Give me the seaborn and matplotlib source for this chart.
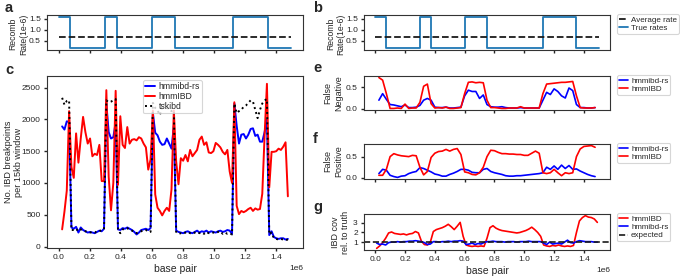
import numpy as np
import pandas as pd
import seaborn as sns
import matplotlib.pyplot as plt

# --- recombination map (bp, rate x1e-6) ---
rate_breaks = [0, 75000, 300000, 375000, 600000, 750000, 1125000, 1350000, 1500000]
rate_values = [1.6, 0.15, 1.6, 0.15, 1.6, 0.15, 1.6, 0.15, 0.15]
avg_rate = 0.67

# --- panel c: breakpoints per 15kb window ---
win_pos = np.arange(98) * 15000 + 22500
bp_rs = [1890, 1840, 1970, 1960,
         300, 280, 310, 220, 300, 260, 240, 220, 230, 220, 210, 230, 250, 240, 280,
         2250, 1800, 1700, 1720, 1950,
         270, 260, 290, 280, 300, 280, 260, 230, 190, 220, 260, 270, 280, 260, 290,
         2100, 1790, 1750, 1650, 1600, 1610, 1700, 1620, 1540, 1900,
         250, 230, 220, 210, 230, 240, 220, 210, 230, 250, 220, 240, 230, 250, 220,
         240, 230, 220, 240, 250, 230, 240, 260, 250, 200,
         2250, 1900, 1620, 1760, 1770, 1700, 1760, 1850, 1860, 1740, 1760, 1650, 1650, 1800, 2000,
         180, 240, 150, 130, 120, 130, 130, 110, 120]
bp_hmmibd = [270, 550, 880, 2130, 1250, 1080, 1780, 1320, 1700, 2040,
             1800, 1620, 1700, 1420, 1460, 1440, 1600, 1030, 1030, 2460,
             1100, 570, 1000, 2450, 970, 2050, 1600, 1550, 1880, 1620,
             1680, 1690, 1670, 1720, 1700, 1620, 1560, 1210, 1370, 2140,
             820, 610, 560, 490, 560, 610, 560, 900, 2140, 1340,
             980, 1390, 1350, 1440, 1340, 1520, 1420, 1470, 1520, 1680,
             1730, 1600, 1640, 1480, 1470, 1500, 1630, 1600, 1560, 1490,
             1450, 1520, 1180, 1000, 2270, 640, 510, 560, 540, 560,
             590, 610, 560, 600, 580, 590, 830, 1750, 2560, 930,
             1490, 1490, 1500, 1540, 1520, 1570, 1640, 790]
bp_tsk = [2340, 2230, 2290, 2300,
          260, 260, 280, 240, 270, 250, 240, 230, 220, 230, 220, 240, 240, 260, 270,
          2300, 2270, 2280, 2300, 2320,
          260, 210, 270, 280, 290, 260, 250, 230, 210, 230, 240, 260, 260, 240, 230,
          2260, 2180, 2140, 2070, 2200, 2240, 2180, 2170, 2130, 2140,
          230, 200, 210, 200, 220, 230, 210, 200, 220, 230, 210, 220, 200, 230, 210,
          220, 220, 210, 230, 240, 200, 220, 200, 210, 190,
          2250, 2100, 2130, 2150, 2200, 2220, 2260, 2300, 2280, 2150, 2020, 2150, 2250, 2300, 2320,
          190, 220, 130, 120, 110, 120, 110, 100, 110]

# --- panels e/f: false negative / false positive ---
err_pos = np.arange(1, 60) * 25000
fn_rs = [0.20, 0.35, 0.22, 0.10, 0.09, 0.07, 0.05, 0.09, 0.03, 0.03,
         0.04, 0.08, 0.20, 0.24, 0.20, 0.04, 0.03, 0.03, 0.04, 0.02,
         0.02, 0.03, 0.04, 0.30, 0.43, 0.40, 0.40, 0.24, 0.32, 0.10,
         0.05, 0.04, 0.04, 0.05, 0.03, 0.02, 0.02, 0.02, 0.03, 0.02,
         0.02, 0.02, 0.02, 0.02, 0.20, 0.38, 0.33, 0.46, 0.40, 0.30,
         0.25, 0.48, 0.42, 0.10, 0.03, 0.03, 0.02, 0.02, 0.03]
fn_hmmibd = [0.72, 0.66, 0.35, 0.01, 0.01, 0.02, 0.01, 0.11, 0.01, 0.02,
             0.02, 0.15, 0.52, 0.57, 0.12, 0.02, 0.03, 0.02, 0.04, 0.01,
             0.01, 0.02, 0.03, 0.35, 0.61, 0.62, 0.60, 0.61, 0.60, 0.20,
             0.03, 0.03, 0.02, 0.01, 0.01, 0.02, 0.02, 0.02, 0.05, 0.02,
             0.02, 0.02, 0.02, 0.02, 0.35, 0.57, 0.58, 0.59, 0.60, 0.61,
             0.61, 0.62, 0.63, 0.30, 0.03, 0.02, 0.02, 0.02, 0.03]
fp_rs = [0.10, 0.20, 0.18, 0.06, 0.03, 0.01, 0.04, 0.05, 0.10, 0.13,
         0.15, 0.24, 0.22, 0.18, 0.14, 0.09, 0.07, 0.04, 0.04, 0.08,
         0.11, 0.15, 0.20, 0.20, 0.18, 0.13, 0.12, 0.12, 0.20, 0.22,
         0.15, 0.12, 0.10, 0.08, 0.05, 0.04, 0.04, 0.05, 0.05, 0.06,
         0.07, 0.08, 0.09, 0.10, 0.12, 0.25, 0.20, 0.28, 0.20, 0.30,
         0.22, 0.29, 0.20, 0.21, 0.16, 0.12, 0.08, 0.05, 0.03]
fp_hmmibd = [0.06, 0.06, 0.20, 0.50, 0.57, 0.54, 0.52, 0.51, 0.50, 0.53,
             0.52, 0.25, 0.07, 0.15, 0.48, 0.58, 0.62, 0.63, 0.67, 0.63,
             0.67, 0.69, 0.55, 0.14, 0.12, 0.08, 0.07, 0.12, 0.25, 0.50,
             0.65, 0.64, 0.60, 0.57, 0.57, 0.56, 0.56, 0.55, 0.55, 0.53,
             0.53, 0.58, 0.63, 0.58, 0.12, 0.10, 0.12, 0.20, 0.12, 0.05,
             0.12, 0.10, 0.12, 0.50, 0.68, 0.74, 0.75, 0.76, 0.72]

# --- panel g: IBD coverage relative to truth ---
cov_pos = np.arange(75) * 20000 + 10000
cov_hmmibd = [0.35, 0.6, 0.95, 1.4, 1.95,
              2.05, 1.9, 1.85, 1.8, 1.85, 1.75, 1.85, 1.9, 2.1, 1.95,
              1.1, 0.75, 0.7, 1.0, 2.1, 2.3, 2.4, 2.5, 2.65, 2.85,
              2.6, 2.3, 2.65, 3.05, 1.6, 0.7, 0.6, 0.55, 0.6, 0.55,
              0.6, 0.55, 1.4, 2.5, 2.7, 2.45, 2.3, 2.2, 2.15, 2.1,
              2.05, 2.0, 1.95, 2.0, 2.1, 2.2, 2.35, 2.55, 2.3, 2.0,
              1.6, 0.7, 0.6, 0.55, 0.65, 0.6, 0.7, 0.6, 0.55, 0.6,
              0.55, 0.65, 2.0, 3.2, 3.55, 3.75, 3.6, 3.55, 3.4, 3.05]
cov_rs = [0.9, 0.75, 0.8, 0.7, 0.95,
          1.0, 1.0, 1.05, 1.0, 1.05, 1.05, 1.1, 1.1, 1.15, 1.1,
          1.05, 0.95, 0.75, 0.8, 1.05, 1.05, 1.0, 1.05, 1.05, 1.1,
          1.05, 1.1, 1.1, 1.15, 1.1, 0.75, 0.8, 0.9, 0.75, 0.85,
          0.8, 0.95, 1.05, 1.05, 1.1, 1.05, 1.05, 1.05, 1.0, 1.05,
          1.05, 1.05, 1.0, 1.05, 1.05, 1.05, 1.1, 1.05, 1.05, 1.05,
          1.05, 0.9, 0.75, 1.0, 0.8, 0.85, 0.9, 0.8, 1.0, 1.2,
          0.95, 0.9, 1.05, 1.15, 1.1, 1.05, 1.05, 1.05, 1.0, 1.0]

sns.set_theme(style="ticks", context="paper")
plt.rcParams['font.family'] = ['Liberation Sans', 'DejaVu Sans']
plt.rcParams.update({'xtick.labelsize': 6, 'ytick.labelsize': 6,
                     'axes.labelsize': 7, 'legend.fontsize': 5.8,
                     'xtick.major.size': 2.5, 'ytick.major.size': 2.5,
                     'xtick.major.pad': 2, 'ytick.major.pad': 2,
                     'axes.labelpad': 2, 'axes.linewidth': 0.8})

W, H = 680, 277
fig = plt.figure(figsize=(W / 100, H / 100), dpi=100)


def box(l, t, r, b):
    return [l / W, 1 - b / H, (r - l) / W, (b - t) / H]


leg_kw = dict(loc='upper left', bbox_to_anchor=(1.03, 1.03), handlelength=1.1,
              borderpad=0.25, labelspacing=0.1, handletextpad=0.35, borderaxespad=0)

ax_a = fig.add_axes(box(47, 15, 303, 50))
ax_b = fig.add_axes(box(364, 15, 610, 50))
ax_c = fig.add_axes(box(47, 76, 303, 248))
ax_e = fig.add_axes(box(364, 76, 610, 110))
ax_f = fig.add_axes(box(364, 144, 610, 179))
ax_g = fig.add_axes(box(364, 214, 610, 250))

# a, b: recombination rates
for ax in (ax_a, ax_b):
    sns.lineplot(x=[0, 1500000], y=[avg_rate, avg_rate], color='k', linestyle='--',
                 linewidth=1.3, label='Average rate', ax=ax, zorder=3)
    sns.lineplot(x=rate_breaks, y=rate_values, drawstyle='steps-post', color='tab:blue',
                 linewidth=1.3, label='True rates', ax=ax)
    ax.set_yticks([0.5, 1.0, 1.5])
    ax.set_ylabel('Recomb\nRate(1e-6)', fontsize=6.2)
    ax.yaxis.set_label_coords(-0.075, 0.45)
ax_a.get_legend().remove()
ax_b.legend(**leg_kw)
xlim = ax_a.get_xlim()

# c: breakpoint counts
for vals, lab, col, ls in [(bp_rs, 'hmmibd-rs', 'blue', '-'),
                           (bp_hmmibd, 'hmmIBD', 'red', '-'),
                           (bp_tsk, 'tskibd', 'black', ':')]:
    sns.lineplot(x=win_pos, y=vals, color=col, linestyle=ls, linewidth=1.4,
                 label=lab, ax=ax_c)
ax_c.legend(loc='upper center', bbox_to_anchor=(0.49, 1.0), handlelength=1.2,
            borderpad=0.25, labelspacing=0.1, handletextpad=0.35, fontsize=6.2)
ax_c.set_yticks(range(0, 2501, 500))
ax_c.set_ylabel('No. IBD breakpoints\nper 15kb window', fontsize=6.6)
ax_c.yaxis.set_label_coords(-0.092, 0.5)
ax_c.set_xlabel('base pair', fontsize=7.5)

# e, f: error rates
for ax, rs, hm, lab in [(ax_e, fn_rs, fn_hmmibd, 'False\nNegative'),
                        (ax_f, fp_rs, fp_hmmibd, 'False\nPositive')]:
    sns.lineplot(x=err_pos, y=rs, color='blue', linewidth=1.2, label='hmmibd-rs', ax=ax)
    sns.lineplot(x=err_pos, y=hm, color='red', linewidth=1.2, label='hmmIBD', ax=ax)
    ax.set_yticks([0.0, 0.5])
    ax.set_ylabel(lab, fontsize=6.5)
    ax.legend(**leg_kw)

# g: coverage
sns.lineplot(x=cov_pos, y=cov_hmmibd, color='red', linewidth=1.2, label='hmmIBD', ax=ax_g)
sns.lineplot(x=cov_pos, y=cov_rs, color='blue', linewidth=1.2, label='hmmibd-rs', ax=ax_g)
ax_g.axhline(1, color='k', linestyle='--', linewidth=1.2, label='expected')
ax_g.set_yticks([1, 2, 3])
ax_g.set_ylabel('IBD cov\nrel. to truth', fontsize=6.5)
ax_g.set_xlabel('base pair', fontsize=7.5)
ax_g.legend(**leg_kw)

for ax in (ax_a, ax_b, ax_c, ax_e, ax_f, ax_g):
    ax.set_xlim(xlim)
    ax.set_xticks(np.arange(0, 1500000, 200000))
    ax.xaxis.get_offset_text().set_fontsize(6)
    for s in ax.spines.values():
        s.set_color('#333333')
for ax in (ax_a, ax_b, ax_e, ax_f):
    ax.tick_params(labelbottom=False)
    ax.xaxis.get_offset_text().set_visible(False)

for lt, px, py in [('a', 5, 8), ('b', 313, 8), ('c', 5, 70),
                   ('e', 313, 68), ('f', 313, 139), ('g', 313, 207)]:
    fig.text(px / W, 1 - py / H, lt, fontsize=10.5, fontweight='bold', va='center')

fig.savefig('out.png', dpi=100)
